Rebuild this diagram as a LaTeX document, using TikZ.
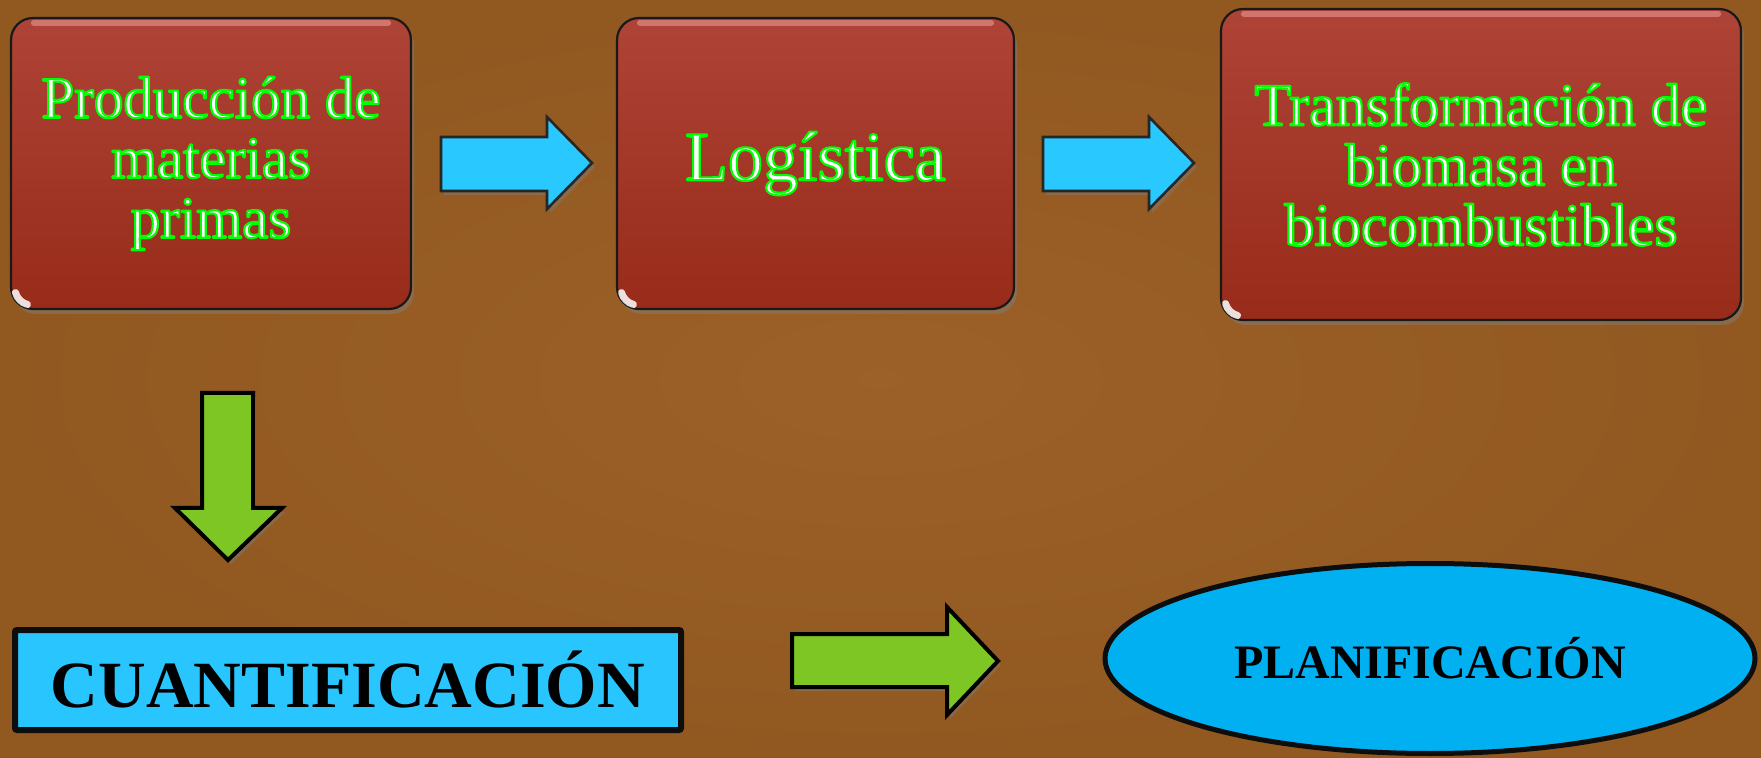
\documentclass[tikz,border=0pt]{standalone}
\usepackage{fontspec}
\setmainfont{Liberation Serif}
\usetikzlibrary{shadows,shapes.geometric}
\definecolor{bgbrown}{HTML}{9A5E24}
\definecolor{bgdark}{HTML}{84501C}
\definecolor{redtop}{HTML}{AE4337}
\definecolor{redbot}{HTML}{982B19}
\definecolor{bluearrow}{HTML}{29C8FF}
\definecolor{greenarrow}{HTML}{7DC623}
\definecolor{cuantblue}{HTML}{29C5FF}
\definecolor{ellblue}{HTML}{00B0F0}
% outlined text: white fill, green stroke (PDF text render mode 2)
\newcommand{\gw}[1]{\special{pdf:literal direct q 2 Tr 1.05 w 1 j 0 1 0 RG 1 1 1 rg}#1\special{pdf:literal direct Q}}
\tikzset{
  redbox/.style={rectangle, rounded corners=11pt, top color=redtop, bottom color=redbot,
    draw=black!90, line width=1.1pt, align=center, text=white,
    drop shadow={shadow xshift=1.5pt, shadow yshift=-2.5pt, opacity=0.45}},
  bluearr/.style={fill=bluearrow, draw=black!85, line width=1.3pt, line join=miter,
    drop shadow={shadow xshift=1.5pt, shadow yshift=-2pt, opacity=0.4}},
  greenarr/.style={fill=greenarrow, draw=black, line width=2pt, line join=miter,
    drop shadow={shadow xshift=1.5pt, shadow yshift=-2pt, opacity=0.4}},
  glint/.style={draw=white, opacity=0.85, line width=3.5pt, line cap=round},
  hilite/.style={line width=3pt, draw=red!30!white, opacity=0.45, line cap=round}
}
\begin{document}
\begin{tikzpicture}[x=0.5pt,y=-0.5pt]
\useasboundingbox (0,0) rectangle (1761,758);
\shade[inner color=bgbrown!95!white, outer color=bgdark] (0,0) rectangle (1761,758);
\fill[bgbrown, opacity=0.6] (0,0) rectangle (1761,758);

% top boxes
\node[redbox, minimum width=200pt, minimum height=145.5pt,
  font=\fontsize{29.5}{30}\selectfont] (b1) at (211,163.5)
  {\gw{Producción de}\\\gw{materias}\\\gw{primas}};
\node[redbox, minimum width=198.5pt, minimum height=145.5pt,
  font=\fontsize{35}{36}\selectfont] (b2) at (815.5,163.5)
  {\gw{Logística}};
\node[redbox, minimum width=260pt, minimum height=155.5pt,
  font=\fontsize{30}{30}\selectfont] (b3) at (1481,164.5)
  {\gw{Transformación de}\\\gw{biomasa en}\\\gw{biocombustibles}};

% highlights
\foreach \n in {b1,b2,b3}{
  \draw[hilite] ([xshift=12pt,yshift=-3pt]\n.north west) -- ([xshift=-12pt,yshift=-3pt]\n.north east);
  \draw[glint] ([shift={(11pt,11pt)}]\n.south west) ++(195:8.5pt) arc[start angle=195, end angle=255, radius=8.5pt];
}

% blue arrows
\draw[bluearr] (441,137) -- (547,137) -- (547,117) -- (592,163) -- (547,209) -- (547,191) -- (441,191) -- cycle;
\draw[bluearr] (1043,137) -- (1149,137) -- (1149,117) -- (1194,163) -- (1149,209) -- (1149,191) -- (1043,191) -- cycle;

% green arrows
\draw[greenarr] (202,393) -- (253,393) -- (253,508) -- (282,508) -- (228,560) -- (175,508) -- (202,508) -- cycle;
\draw[greenarr] (792,634) -- (947,634) -- (947,607) -- (998,661) -- (947,715) -- (947,687) -- (792,687) -- cycle;

% bottom nodes
\node[rectangle, fill=cuantblue, draw=black!95, line width=3pt, rounded corners=1pt,
  minimum width=333pt, minimum height=50pt, inner sep=0pt,
  font=\fontsize{33}{34}\selectfont\bfseries] (cuant) at (348,680) {CUANTIFICACIÓN};
\node[ellipse, fill=ellblue, draw=black!95, line width=2.5pt, inner sep=0pt,
  minimum width=325pt, minimum height=95pt,
  font=\fontsize{24}{26}\selectfont\bfseries] (plan) at (1430,658.5) {PLANIFICACIÓN};
\end{tikzpicture}
\end{document}
